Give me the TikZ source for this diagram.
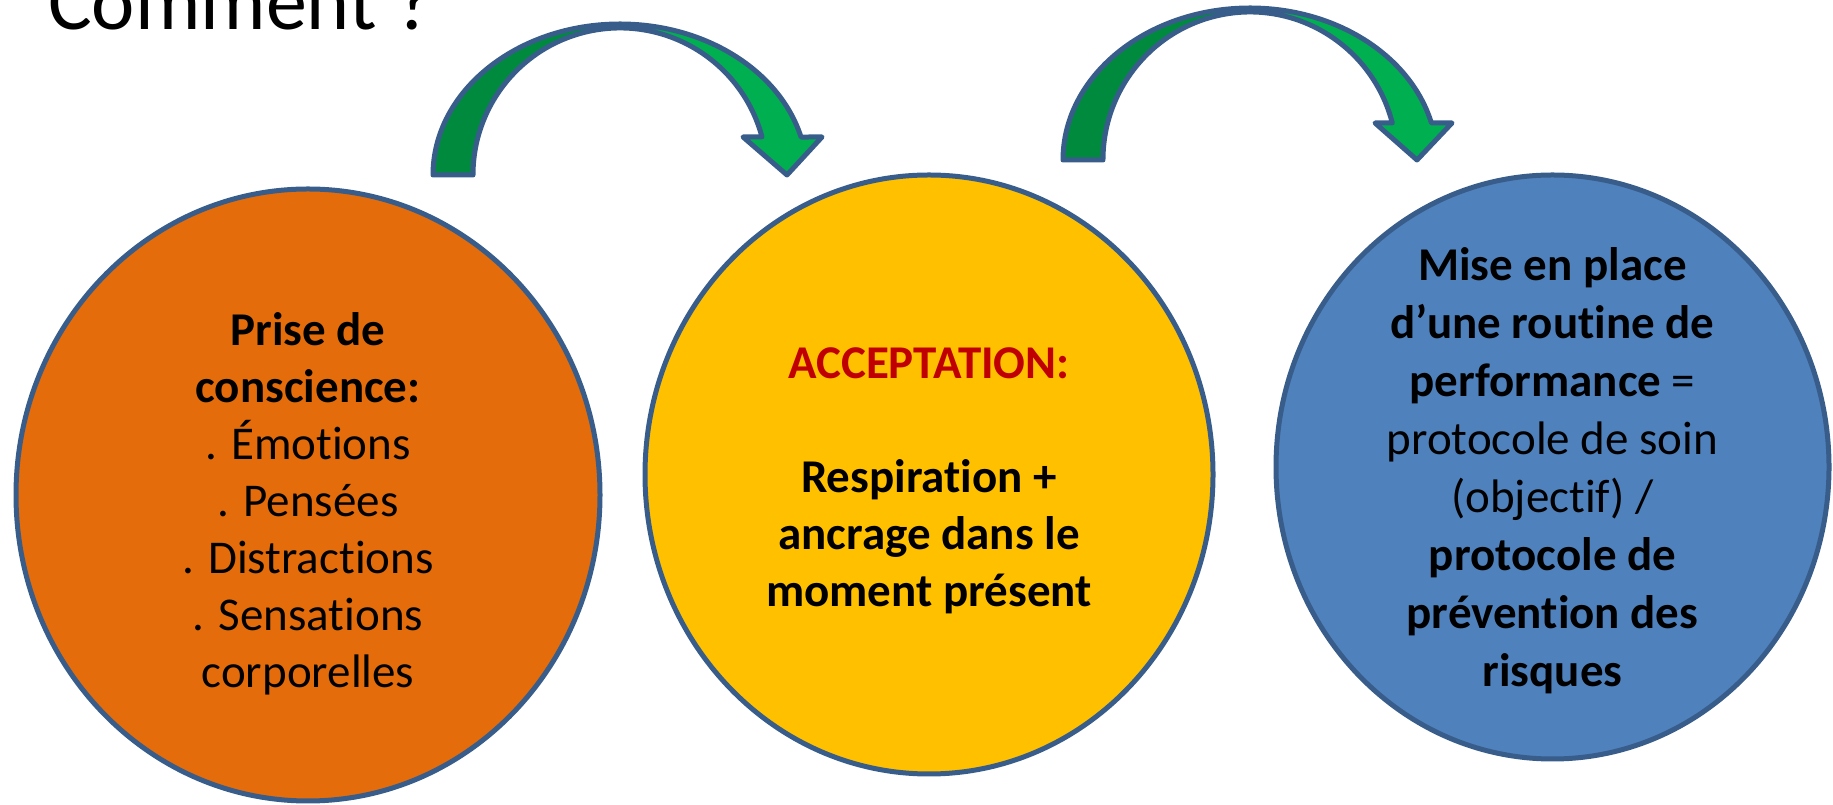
\documentclass[tikz,border=0pt]{standalone}
\usepackage{fontspec}
\setmainfont{Carlito}[Ligatures={TeX,NoCommon}]
\usetikzlibrary{shapes.geometric}
\definecolor{orng}{HTML}{E46C0A}
\definecolor{yllw}{HTML}{FFC000}
\definecolor{blu}{HTML}{4F81BD}
\definecolor{outl}{HTML}{385D8A}
\definecolor{dkgreen}{HTML}{008A3E}
\definecolor{ltgreen}{HTML}{00B050}
\definecolor{accred}{HTML}{C00000}
\begin{document}
\begin{tikzpicture}[x=1pt,y=1pt,
  bubble/.style={ellipse, draw=outl, line width=5pt, inner sep=0pt, outer sep=0pt},
  txt/.style={align=center, font=\fontsize{47}{57}\selectfont, text=black, inner sep=0pt},
  arrowline/.style={draw=outl, line width=5pt, line join=round},
]
\useasboundingbox (0,0) rectangle (1833,805);

% title
\node[anchor=base west, inner sep=0pt, font=\fontsize{82}{98}\selectfont] (title) at (48,775) {Comment ?};

% circles
\node[bubble, fill=orng, minimum width=584pt, minimum height=612pt] (c1) at (308,310) {};
\node[bubble, fill=yllw, minimum width=568pt, minimum height=599pt] (c2) at (929,330.5) {};
\node[bubble, fill=blu, minimum width=553pt, minimum height=584pt] (c3) at (1552.5,338) {};

\node[txt] (t1) at ([yshift=-9pt]c1.center) {\textbf{Prise de}\\\textbf{conscience:}\\. Émotions\\. Pensées\\. Distractions\\. Sensations\\corporelles};
\node[txt] (t2) at ([yshift=-6pt]c2.center) {\textcolor{accred}{\textbf{ACCEPTATION:}}\\~\\\textbf{Respiration +}\\\textbf{ancrage dans le}\\\textbf{moment présent}};
\node[txt, font=\fontsize{47}{58}\selectfont] (t3) at ([yshift=-4pt]c3.center) {\textbf{Mise en place}\\\textbf{d’une routine de}\\\textbf{performance} =\\protocole de soin\\(objectif) /\\\textbf{protocole de}\\\textbf{prévention des}\\\textbf{risques}};

% arrow 1
\fill[dkgreen] (433,630) arc[start angle=180,end angle=90,x radius=187,y radius=151] -- (620,777) arc[start angle=90,end angle=180,x radius=147,y radius=147] -- cycle;
\fill[ltgreen] (620,781) arc[start angle=90,end angle=14.57,x radius=187,y radius=151] -- (822,668) -- (787,630) -- (743,668) -- (762,668) arc[start angle=14.98,end angle=90,x radius=147,y radius=147] -- cycle;
\draw[arrowline] (433,630) arc[start angle=180,end angle=14.57,x radius=187,y radius=151] -- (822,668) -- (787,630) -- (743,668) -- (762,668) arc[start angle=14.98,end angle=180,x radius=147,y radius=147] -- cycle;

% arrow 2
\fill[dkgreen] (1063,645) arc[start angle=180,end angle=90,x radius=187,y radius=152] -- (1250,793) arc[start angle=90,end angle=180,x radius=147,y radius=148] -- cycle;
\fill[ltgreen] (1250,797) arc[start angle=90,end angle=14.09,x radius=187,y radius=152] -- (1452,682) -- (1417,645) -- (1375,682) -- (1392.3,682) arc[start angle=14.48,end angle=90,x radius=147,y radius=148] -- cycle;
\draw[arrowline] (1063,645) arc[start angle=180,end angle=14.09,x radius=187,y radius=152] -- (1452,682) -- (1417,645) -- (1375,682) -- (1392.3,682) arc[start angle=14.48,end angle=180,x radius=147,y radius=148] -- cycle;
\end{tikzpicture}
\end{document}
